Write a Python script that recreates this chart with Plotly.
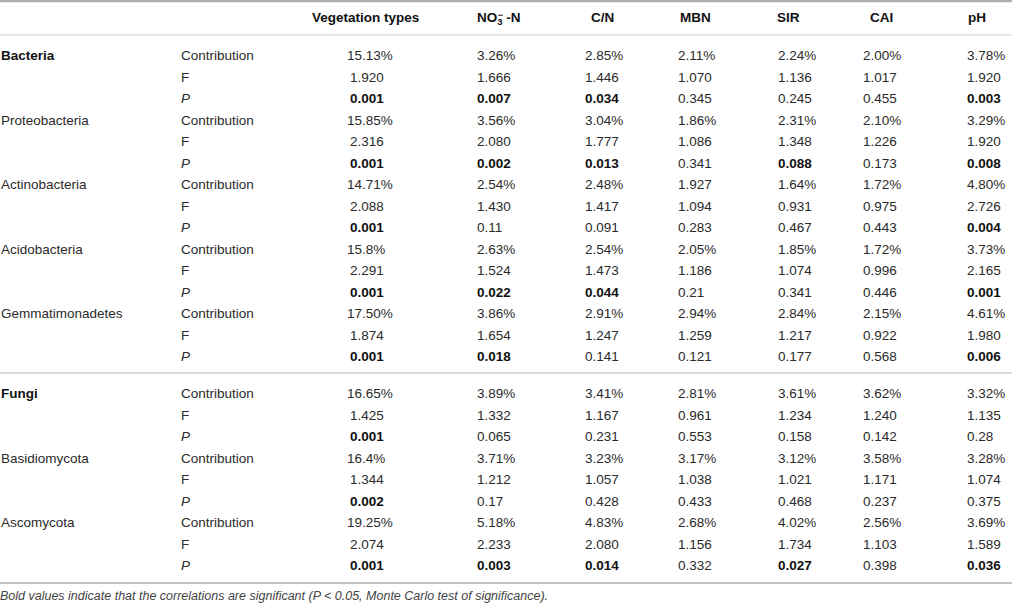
import plotly.graph_objects as go

# table content
taxa = ["Bacteria", "Proteobacteria", "Actinobacteria", "Acidobacteria", "Gemmatimonadetes",
        "Fungi", "Basidiomycota", "Ascomycota"]
bold_taxa = ["Bacteria", "Fungi"]
factors = ["Vegetation types", "NO<sub>3</sub>\u00a0-N", "C/N", "MBN", "SIR", "CAI", "pH"]
stat_labels = ["Contribution", "F", "<i>P</i>"]

contribution = {
    "Bacteria": ["15.13%", "3.26%", "2.85%", "2.11%", "2.24%", "2.00%", "3.78%"],
    "Proteobacteria": ["15.85%", "3.56%", "3.04%", "1.86%", "2.31%", "2.10%", "3.29%"],
    "Actinobacteria": ["14.71%", "2.54%", "2.48%", "1.927", "1.64%", "1.72%", "4.80%"],
    "Acidobacteria": ["15.8%", "2.63%", "2.54%", "2.05%", "1.85%", "1.72%", "3.73%"],
    "Gemmatimonadetes": ["17.50%", "3.86%", "2.91%", "2.94%", "2.84%", "2.15%", "4.61%"],
    "Fungi": ["16.65%", "3.89%", "3.41%", "2.81%", "3.61%", "3.62%", "3.32%"],
    "Basidiomycota": ["16.4%", "3.71%", "3.23%", "3.17%", "3.12%", "3.58%", "3.28%"],
    "Ascomycota": ["19.25%", "5.18%", "4.83%", "2.68%", "4.02%", "2.56%", "3.69%"],
}
f_values = {
    "Bacteria": ["1.920", "1.666", "1.446", "1.070", "1.136", "1.017", "1.920"],
    "Proteobacteria": ["2.316", "2.080", "1.777", "1.086", "1.348", "1.226", "1.920"],
    "Actinobacteria": ["2.088", "1.430", "1.417", "1.094", "0.931", "0.975", "2.726"],
    "Acidobacteria": ["2.291", "1.524", "1.473", "1.186", "1.074", "0.996", "2.165"],
    "Gemmatimonadetes": ["1.874", "1.654", "1.247", "1.259", "1.217", "0.922", "1.980"],
    "Fungi": ["1.425", "1.332", "1.167", "0.961", "1.234", "1.240", "1.135"],
    "Basidiomycota": ["1.344", "1.212", "1.057", "1.038", "1.021", "1.171", "1.074"],
    "Ascomycota": ["2.074", "2.233", "2.080", "1.156", "1.734", "1.103", "1.589"],
}
p_values = {
    "Bacteria": ["0.001", "0.007", "0.034", "0.345", "0.245", "0.455", "0.003"],
    "Proteobacteria": ["0.001", "0.002", "0.013", "0.341", "0.088", "0.173", "0.008"],
    "Actinobacteria": ["0.001", "0.11", "0.091", "0.283", "0.467", "0.443", "0.004"],
    "Acidobacteria": ["0.001", "0.022", "0.044", "0.21", "0.341", "0.446", "0.001"],
    "Gemmatimonadetes": ["0.001", "0.018", "0.141", "0.121", "0.177", "0.568", "0.006"],
    "Fungi": ["0.001", "0.065", "0.231", "0.553", "0.158", "0.142", "0.28"],
    "Basidiomycota": ["0.002", "0.17", "0.428", "0.433", "0.468", "0.237", "0.375"],
    "Ascomycota": ["0.001", "0.003", "0.014", "0.332", "0.027", "0.398", "0.036"],
}
# which P values are set in bold in the source table
p_bold = {
    "Bacteria": [1, 1, 1, 0, 0, 0, 1],
    "Proteobacteria": [1, 1, 1, 0, 1, 0, 1],
    "Actinobacteria": [1, 0, 0, 0, 0, 0, 1],
    "Acidobacteria": [1, 1, 1, 0, 0, 0, 1],
    "Gemmatimonadetes": [1, 1, 0, 0, 0, 0, 1],
    "Fungi": [1, 0, 0, 0, 0, 0, 0],
    "Basidiomycota": [1, 0, 0, 0, 0, 0, 0],
    "Ascomycota": [1, 1, 1, 0, 1, 0, 1],
}
note = ("<i>Bold values indicate that the correlations are significant "
        "(P < 0.05, Monte Carlo test of significance).</i>")

# layout (pixel units on the hidden axes)
W, H = 1012, 604
FONT = "Liberation Sans, Arial, sans-serif"
TXT = "#2a2a2a"
col_left = [347, 477, 585, 678, 778, 863, 967]
head_left = [312, 477, 591, 680, 777, 870, 968]
taxon_x, stat_x = 1, 181
row_h = 21.5
dy = 2  # svg text sits a bit high, nudge down
group_top = {"Bacteria": 55 + dy, "Fungi": 393 + dy}
header_y = 17 + dy


def row_y(k, s):
    if k < 5:
        return group_top["Bacteria"] + row_h * (3 * k + s)
    return group_top["Fungi"] + row_h * (3 * (k - 5) + s)


normal = dict(x=[], y=[], t=[])
bold = dict(x=[], y=[], t=[])

for k, taxon in enumerate(taxa):
    tgt = bold if taxon in bold_taxa else normal
    tgt["x"].append(taxon_x); tgt["y"].append(row_y(k, 0)); tgt["t"].append(taxon)
    for s, lab in enumerate(stat_labels):
        normal["x"].append(stat_x); normal["y"].append(row_y(k, s)); normal["t"].append(lab)
    for c in range(len(factors)):
        shift = 3 if (c == 0) else 0
        normal["x"].append(col_left[c]); normal["y"].append(row_y(k, 0))
        normal["t"].append(contribution[taxon][c])
        normal["x"].append(col_left[c] + shift); normal["y"].append(row_y(k, 1))
        normal["t"].append(f_values[taxon][c])
        tgt_p = bold if p_bold[taxon][c] else normal
        tgt_p["x"].append(col_left[c] + shift); tgt_p["y"].append(row_y(k, 2))
        tgt_p["t"].append(p_values[taxon][c])

fig = go.Figure()
fig.add_trace(go.Scatter(
    x=normal["x"], y=normal["y"], text=normal["t"], mode="text",
    textposition="middle right", textfont=dict(family=FONT, size=13.5, color=TXT),
    hoverinfo="skip", showlegend=False))
fig.add_trace(go.Scatter(
    x=bold["x"], y=bold["y"], text=["<b>" + t + "</b>" for t in bold["t"]], mode="text",
    textposition="middle right", textfont=dict(family=FONT, size=13.5, color="#111"),
    hoverinfo="skip", showlegend=False))
# header row
fig.add_trace(go.Scatter(
    x=head_left, y=[header_y] * len(factors), text=["<b>" + f + "</b>" for f in factors],
    mode="text", textposition="middle right",
    textfont=dict(family=FONT, size=13.5, color="#111"),
    hoverinfo="skip", showlegend=False))
# superscript minus stacked over the subscript 3 of NO3
fig.add_trace(go.Scatter(
    x=[head_left[1] + 23.5], y=[header_y - 3], text=["<b>−</b>"], mode="text",
    textposition="middle center", textfont=dict(family=FONT, size=9, color="#111"),
    hoverinfo="skip", showlegend=False))
# footnote
fig.add_trace(go.Scatter(
    x=[taxon_x - 1], y=[595 + dy], text=[note], mode="text", textposition="middle right",
    textfont=dict(family=FONT, size=12.5, color="#444"),
    hoverinfo="skip", showlegend=False))

# rules
for y, w, col in [(1, 2.5, "#b0b0b0"), (35, 1.2, "#cfcfcf"), (373, 1.5, "#cfcfcf"), (583, 2, "#c0c0c0")]:
    fig.add_shape(type="line", xref="paper", yref="y", x0=0, x1=1, y0=y, y1=y,
                  line=dict(color=col, width=w))

fig.update_layout(
    width=W, height=H,
    margin=dict(l=0, r=0, t=0, b=0),
    plot_bgcolor="white", paper_bgcolor="white",
    xaxis=dict(range=[0, W], visible=False, fixedrange=True),
    yaxis=dict(range=[H, 0], visible=False, fixedrange=True),
)
fig.write_html("out.html", config={"displayModeBar": False},
               post_script="document.body.style.margin='0';")
